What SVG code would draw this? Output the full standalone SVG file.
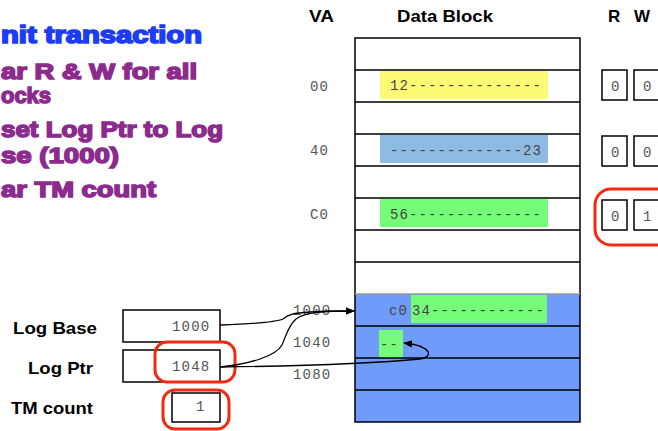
<svg xmlns="http://www.w3.org/2000/svg" width="658" height="431" viewBox="0 0 658 431">
  <defs>
    <marker id="arrow" viewBox="0 0 10 10" refX="9" refY="5" markerWidth="9" markerHeight="9" markerUnits="userSpaceOnUse" orient="auto">
      <path d="M0,1 L10,5 L0,9 Z" fill="#000"/>
    </marker>
    <style>
      .title { font-family: "Liberation Sans", Arial, sans-serif; font-weight: bold; font-size: 24px; fill: #1c3cf8; stroke: #1c3cf8; stroke-width: 1.7px; }
      .item { font-family: "Liberation Sans", Arial, sans-serif; font-weight: bold; font-size: 22px; fill: #8c2a8e; stroke: #8c2a8e; stroke-width: 1.5px; }
      .head { font-family: "Liberation Sans", Arial, sans-serif; font-weight: bold; font-size: 17px; fill: #000; }
      .mono { font-family: "Liberation Mono", "Courier New", monospace; font-size: 14px; fill: #444; letter-spacing: 1.1px; }
      .addr { font-family: "Liberation Mono", "Courier New", monospace; font-size: 14px; fill: #555; letter-spacing: 1.2px; }
      .cell { fill: none; stroke: #000; stroke-width: 1.5; }
      .box { fill: #fff; stroke: #000; stroke-width: 1.5; }
      .hl { fill: none; stroke: #f22a12; stroke-width: 3; }
      .wire { fill: none; stroke: #000; stroke-width: 1.3; }
    </style>
  </defs>

  <!-- step list -->
  <g id="steps">
    <text class="title" x="1" y="43" textLength="201" lengthAdjust="spacingAndGlyphs">nit transaction</text>
    <text class="item" x="1" y="79" textLength="196" lengthAdjust="spacingAndGlyphs">ar R &amp; W for all</text>
    <text class="item" x="1" y="103" textLength="50" lengthAdjust="spacingAndGlyphs">ocks</text>
    <text class="item" x="1" y="137" textLength="222" lengthAdjust="spacingAndGlyphs">set Log Ptr to Log</text>
    <text class="item" x="1" y="163" textLength="118" lengthAdjust="spacingAndGlyphs">se (1000)</text>
    <text class="item" x="1" y="197" textLength="155" lengthAdjust="spacingAndGlyphs">ar TM count</text>
  </g>

  <!-- column headings -->
  <g id="headings">
    <text class="head" x="309" y="22" textLength="25" lengthAdjust="spacingAndGlyphs">VA</text>
    <text class="head" x="397" y="22" textLength="96" lengthAdjust="spacingAndGlyphs">Data Block</text>
    <text class="head" x="608" y="22">R</text>
    <text class="head" x="634" y="22">W</text>
  </g>

  <!-- data block -->
  <g id="data-block">
    <rect x="355" y="294" width="225" height="128" fill="#6f9cfb"/>
    <rect x="380" y="71" width="168" height="28" fill="#fcfa72"/>
    <rect x="380" y="135" width="168" height="28" fill="#8dbbe2"/>
    <rect x="380" y="199" width="168" height="28" fill="#75fc78"/>
    <rect x="411" y="295" width="136" height="28" fill="#75fc78"/>
    <rect x="379" y="330" width="24" height="28" fill="#75fc78"/>
    <rect class="cell" x="355" y="38" width="225" height="384"/>
    <path class="cell" d="M355,70H580M355,102H580M355,134H580M355,166H580M355,198H580M355,230H580M355,262H580M355,326H580M355,358H580M355,390H580"/>
    <path d="M355,294H580" stroke="#999" stroke-width="1.5"/>
    <text class="mono" x="390" y="90">12--------------</text>
    <text class="mono" x="390" y="155">--------------23</text>
    <text class="mono" x="390" y="219">56--------------</text>
    <text class="mono" x="389" y="315">c0</text>
    <text class="mono" x="412" y="315">34------------</text>
    <text class="mono" x="380" y="349">--</text>
  </g>

  <!-- virtual addresses -->
  <g id="addresses">
    <text class="addr" x="310" y="91">00</text>
    <text class="addr" x="310" y="155">40</text>
    <text class="addr" x="310" y="219">C0</text>
    <text class="addr" x="293" y="315">1000</text>
    <text class="addr" x="293" y="347">1040</text>
    <text class="addr" x="293" y="379">1080</text>
  </g>

  <!-- read / write bits -->
  <g id="rw-bits">
    <rect class="box" x="602" y="70" width="25" height="30"/>
    <rect class="box" x="634" y="70" width="26" height="30"/>
    <rect class="box" x="602" y="136" width="25" height="30"/>
    <rect class="box" x="634" y="136" width="26" height="30"/>
    <rect class="box" x="602" y="200" width="25" height="30"/>
    <rect class="box" x="634" y="200" width="26" height="30"/>
    <text class="addr" x="611" y="91">0</text>
    <text class="addr" x="643" y="91">0</text>
    <text class="addr" x="611" y="157">0</text>
    <text class="addr" x="643" y="157">0</text>
    <text class="addr" x="611" y="221">0</text>
    <text class="addr" x="643" y="221">1</text>
    <rect class="hl" x="595" y="189" width="80" height="56" rx="16"/>
  </g>

  <!-- log registers -->
  <g id="log-base">
    <text class="head" x="13" y="334" textLength="84" lengthAdjust="spacingAndGlyphs">Log Base</text>
    <rect class="box" x="123" y="310" width="97" height="32"/>
    <text class="addr" x="172" y="331">1000</text>
  </g>
  <g id="log-ptr">
    <text class="head" x="28" y="374" textLength="65" lengthAdjust="spacingAndGlyphs">Log Ptr</text>
    <rect class="box" x="123" y="350" width="97" height="32"/>
    <text class="addr" x="172" y="371">1048</text>
    <rect class="hl" x="155" y="342" width="80" height="40" rx="12"/>
  </g>
  <g id="tm-count">
    <text class="head" x="11" y="414" textLength="82" lengthAdjust="spacingAndGlyphs">TM count</text>
    <rect class="box" x="172" y="393" width="48" height="29"/>
    <text class="addr" x="196" y="411">1</text>
    <rect class="hl" x="163" y="390" width="66" height="39" rx="12"/>
  </g>

  <!-- pointers -->
  <g id="connectors">
    <path class="wire" d="M220,325 C250,324 276,322 283,319 C288,315 292,313 310,312 C325,311 340,311 354,311" marker-end="url(#arrow)"/>
    <path class="wire" d="M220,367 C250,364 276,356 282,345 C286,336 288,326 296,319 C305,312 325,311 354,311" marker-end="url(#arrow)"/>
    <path class="wire" d="M220,367 C300,366 380,363 420,359 C434,357 432,346 404,343" marker-end="url(#arrow)"/>
  </g>
</svg>
